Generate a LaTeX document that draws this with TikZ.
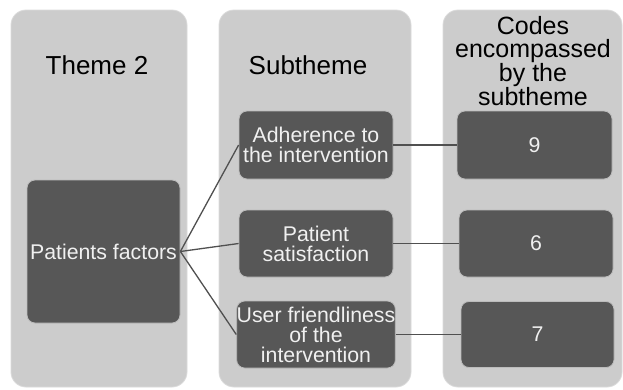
\documentclass[tikz,border=0pt]{standalone}
\usepackage{fontspec}
\setmainfont{Liberation Sans}
\begin{document}
\begin{tikzpicture}[x=1pt,y=-1pt,
  colbg/.style={fill=colgray,draw=colgray!70!white,line width=0.8pt,rounded corners=15pt,inner sep=0pt},
  darkbox/.style={fill=boxgray,draw=boxgray!40!white,line width=0.8pt,rounded corners=8pt,inner sep=0pt,
    text=white!94!black,align=center,font=\fontsize{21.3}{20}\selectfont},
  heading/.style={align=center,font=\fontsize{26}{22.5}\selectfont,text=black,inner sep=0pt},
  codehead/.style={align=center,font=\fontsize{25}{23}\selectfont,text=black,inner sep=0pt},
  link/.style={draw=linegray,line width=1.3pt}]
\definecolor{colgray}{HTML}{CCCCCC}
\definecolor{boxgray}{HTML}{575757}
\definecolor{linegray}{HTML}{505050}
\useasboundingbox[fill=white] (0,0) rectangle (623,389);
% columns
\node[colbg,minimum width=176pt,minimum height=377pt] (col1) at (99,198.5) {};
\node[colbg,minimum width=192pt,minimum height=377pt] (col2) at (315,198.5) {};
\node[colbg,minimum width=179pt,minimum height=377pt] (col3) at (532.5,198.5) {};
% headings
\node[heading] (h1) at (97,65) {Theme 2};
\node[heading] (h2) at (308,65) {Subtheme};
\node[codehead] (h3) at (533,61) {Codes\\encompassed\\by the\\subtheme};
% boxes
\node[darkbox,minimum width=153pt,minimum height=143pt] (p) at (103.5,251.5) {Patients factors};
\node[darkbox,minimum width=154pt,minimum height=68pt] (a1) at (316,145) {Adherence to\\the intervention};
\node[darkbox,minimum width=154pt,minimum height=67pt] (a2) at (316,243.5) {Patient\\satisfaction};
\node[darkbox,minimum width=154pt,minimum height=67pt] (a3) at (316,334.5) {User friendliness\\of the\\intervention};
\node[darkbox,minimum width=155pt,minimum height=68pt] (c1) at (534.5,145) {9};
\node[darkbox,minimum width=154pt,minimum height=67pt] (c2) at (536,243.5) {6};
\node[darkbox,minimum width=153pt,minimum height=66pt] (c3) at (537.5,334.5) {7};
% links
\draw[link] (p.east) -- (a1.west);
\draw[link] (p.east) -- (a2.west);
\draw[link] (p.east) -- (a3.west);
\draw[link] (a1.east) -- (c1.west);
\draw[link] (a2.east) -- (c2.west);
\draw[link] (a3.east) -- (c3.west);
\end{tikzpicture}
\end{document}
